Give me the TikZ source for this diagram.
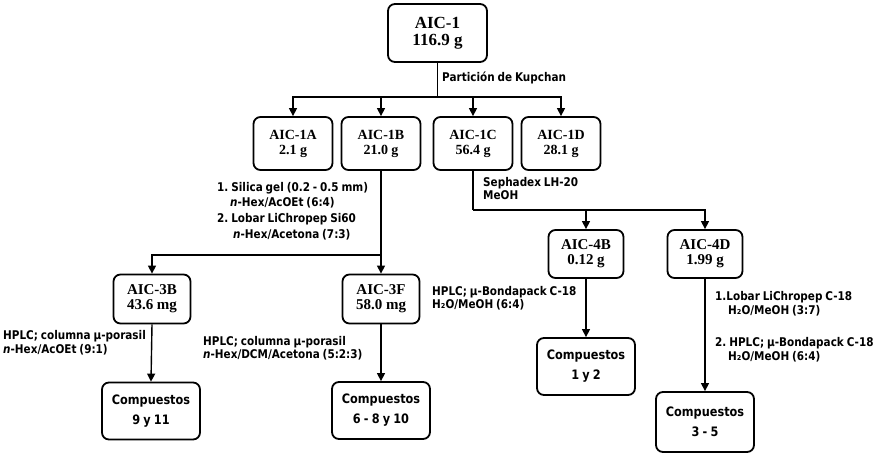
\documentclass[tikz,border=0pt]{standalone}
\usepackage{fontspec}
\setmainfont{Liberation Serif}
\newfontfamily\labfam[FakeStretch=0.87,WordSpace=0.8]{DejaVu Sans}
\usetikzlibrary{arrows.meta}
\frenchspacing
\begin{document}
\begin{tikzpicture}[x=1pt,y=-1pt,
  box/.style={draw, line width=1.8pt, rounded corners=7pt, inner sep=0pt, align=center},
  aicA/.style={box, font=\bfseries\fontsize{17}{17}\selectfont, minimum width=99pt, minimum height=58pt},
  aicB/.style={box, font=\bfseries\fontsize{14}{15}\selectfont, minimum width=79pt, minimum height=53pt},
  aicC/.style={box, font=\bfseries\fontsize{15}{15}\selectfont, minimum width=77pt, minimum height=49pt},
  comp/.style={box, font=\labfam\bfseries\fontsize{13}{20}\selectfont, minimum width=98pt, minimum height=57pt},
  lab/.style={anchor=west, inner sep=0pt, font=\labfam\bfseries\fontsize{12}{14}\selectfont},
  ln/.style={line width=1.4pt},
  arr/.style={line width=1.4pt, -{Triangle[length=8pt,width=8pt]}}]
\useasboundingbox (0,0) rectangle (884,455);
% boxes
\node[aicA] (a1) at (437.5,33) {AIC-1\\116.9 g};
\node[aicB] (a1A) at (293,143.5) {AIC-1A\\2.1 g};
\node[aicB] (a1B) at (381,143.5) {AIC-1B\\21.0 g};
\node[aicB] (a1C) at (473,143.5) {AIC-1C\\56.4 g};
\node[aicB] (a1D) at (561,143.5) {AIC-1D\\28.1 g};
\node[aicC] (a3B) at (152,299) {AIC-3B\\43.6 mg};
\node[aicC] (a3F) at (381,299) {AIC-3F\\58.0 mg};
\node[aicC, minimum width=75pt, minimum height=48pt] (a4B) at (586,254) {AIC-4B\\0.12 g};
\node[aicC, minimum width=75pt, minimum height=48pt] (a4D) at (705,254) {AIC-4D\\1.99 g};
\node[comp] (c911) at (151,411) {Compuestos\\9 y 11};
\node[comp] (c6810) at (381,410.5) {Compuestos\\6 - 8 y 10};
\node[comp] (c12) at (586,366.5) {Compuestos\\1 y 2};
\node[comp, minimum height=60pt] (c35) at (705,422) {Compuestos\\3 - 5};
% split points
\coordinate (s1) at (437.5,97);
\coordinate (s2) at (381,255);
\coordinate (s3) at (473,210);
% connectors
\draw[ln] (a1.south) -- (s1);
\draw[arr] (s1) -| (a1A.north);
\draw[arr] (s1) -| (a1B.north);
\draw[arr] (s1) -| (a1C.north);
\draw[arr] (s1) -| (a1D.north);
\draw[ln] (a1B.south) -- (s2);
\draw[arr] (s2) -| (a3B.north);
\draw[arr] (s2) -- (a3F.north);
\draw[ln] (a1C.south) -- (s3);
\draw[arr] (s3) -| (a4B.north);
\draw[arr] (s3) -| (a4D.north);
\draw[arr] (a3B.south) -- (c911.north);
\draw[arr] (a3F.south) -- (c6810.north);
\draw[arr] (a4B.south) -- (c12.north);
\draw[arr] (a4D.south) -- (c35.north);
% labels
\node[lab] (t0) at (442,78) {Partición de Kupchan};
\node[lab] (t1) at (217,188.5) {1. Silica gel (0.2 - 0.5 mm)};
\node[lab] (t2) at (230,203) {{\itshape n}-Hex/AcOEt (6:4)};
\node[lab] (t3) at (217,219.5) {2. Lobar LiChropep Si60};
\node[lab] (t4) at (233,234.5) {{\itshape n}-Hex/Acetona (7:3)};
\node[lab] (t5) at (483,183) {Sephadex LH-20};
\node[lab] (t6) at (483,195.5) {MeOH};
\node[lab] (t7) at (432,292) {HPLC; μ-Bondapack C-18};
\node[lab] (t8) at (432,305) {H₂O/MeOH (6:4)};
\node[lab] (t9) at (715,297) {1.Lobar LiChropep C-18};
\node[lab] (t10) at (728,311) {H₂O/MeOH (3:7)};
\node[lab] (t11) at (715,343) {2. HPLC; μ-Bondapack C-18};
\node[lab] (t12) at (728,357) {H₂O/MeOH (6:4)};
\node[lab] (t13) at (3,336) {HPLC; columna μ-porasil};
\node[lab] (t14) at (3,350) {{\itshape n}-Hex/AcOEt (9:1)};
\node[lab] (t15) at (203,342) {HPLC; columna μ-porasil};
\node[lab] (t16) at (203,355) {{\itshape n}-Hex/DCM/Acetona (5:2:3)};
\end{tikzpicture}
\end{document}
